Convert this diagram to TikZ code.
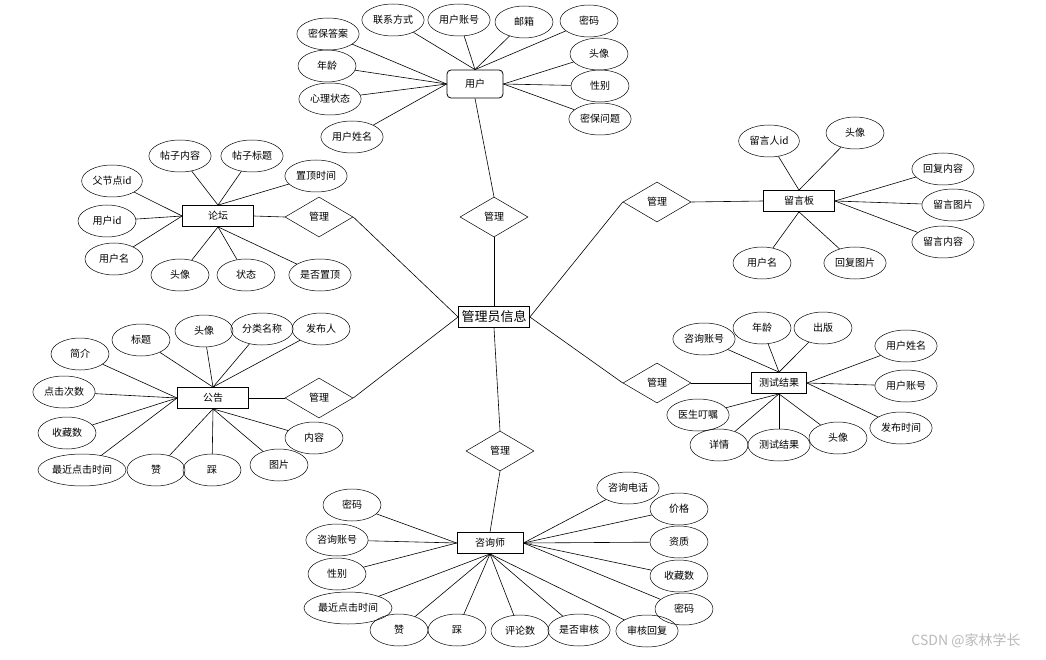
\documentclass[tikz,border=0pt]{standalone}
\usepackage{fontspec}
\setmainfont{Noto Sans CJK SC}
\usetikzlibrary{shapes.geometric}

\begin{document}
\begin{tikzpicture}[x=1pt, y=-1pt, font=\fontsize{10}{12}\selectfont,
  attr/.style={ellipse, draw, line width=0.5pt, minimum width=58, minimum height=32, inner xsep=2pt, inner ysep=0pt},
  attrlong/.style={attr, inner xsep=0pt, minimum width=88},
  ent/.style={rectangle, draw, line width=0.8pt, minimum width=71, minimum height=21, inner sep=0pt},
  rel/.style={diamond, draw, line width=0.5pt, minimum width=68, minimum height=40, inner sep=0pt},
  link/.style={line width=0.6pt}]
\useasboundingbox (0,0) rectangle (1046,660);
% Centre entity and relations
\node[ent, font=\fontsize{13}{15}\selectfont] (a) at (494,317) {管理员信息};
\node[rel] (ur) at (494,217) {管理};
\node[rel] (fr) at (319,217) {管理};
\node[rel] (nr) at (319,398) {管理};
\node[rel] (mr) at (657,202) {管理};
\node[rel] (tr) at (657,383) {管理};
\node[rel] (cr) at (500,451) {管理};
% Entities
\node[ent, rounded corners=4pt, minimum width=56, minimum height=28] (u) at (475,84) {用户};
\node[ent] (f) at (218,216) {论坛};
\node[ent] (n) at (213,398) {公告};
\node[ent] (m) at (799,201) {留言板};
\node[ent, minimum width=55] (t) at (779,383) {测试结果};
\node[ent, minimum width=66] (c) at (490,543) {咨询师};
% Relation links
\draw[link] (u.south) -- (ur.north);
\draw[link] (ur.south) -- (a.north);
\draw[link] (a.west) -- (fr.east);
\draw[link] (a.west) -- (nr.east);
\draw[link] (a.east) -- (mr.west);
\draw[link] (a.east) -- (tr.west);
\draw[link] (a.south) -- (cr.north);
\draw[link] (cr.south) -- (c.north);
\draw[link] (f.east) -- (fr.west);
\draw[link] (n.east) -- (nr.west);
\draw[link] (m.west) -- (mr.east);
\draw[link] (t.west) -- (tr.east);
% User attributes
\foreach \id/\px/\py/\lbl/\side in {
  ua/328/34/密保答案/west, ub/393/20/联系方式/north, uc/459/20/用户账号/north,
  ud/524/22/邮箱/north, ue/589/21/密码/north, uf/599/54/头像/east,
  ug/600/86/性别/east, uh/600/119/密保问题/east, ui/327/66/年龄/west,
  uj/330/99/心理状态/west, uk/352/137/用户姓名/west} {
  \node[attr] (\id) at (\px,\py) {\lbl};
  \draw[link] (\id) -- (u.\side);
}
% Forum attributes
\foreach \id/\px/\py/\lbl/\side in {
  fa/180/156/帖子内容/north, fb/252/156/帖子标题/north, fc/316/176/置顶时间/north,
  fd/112/181/父节点id/west, fe/107/221/用户id/west, ff/114/259/用户名/west,
  fg/180/275/头像/south, fh/246/275/状态/south, fi/320/275/是否置顶/south} {
  \node[attr] (\id) at (\px,\py) {\lbl};
  \draw[link] (\id) -- (f.\side);
}
% Notice attributes
\foreach \id/\px/\py/\lbl/\side in {
  na/80/354/简介/west, nb/141/340/标题/north, nc/204/331/头像/north,
  nd/262/329/分类名称/north, ne/321/329/发布人/north, nf/64/392/点击次数/west,
  ng/67/433/收藏数/west, ni/156/470/赞/south,
  nj/212/470/踩/south, nk/279/465/图片/south, nl/314/438/内容/south} {
  \node[attr] (\id) at (\px,\py) {\lbl};
  \draw[link] (\id) -- (n.\side);
}
\node[attrlong] (nh) at (82,470) {最近点击时间};
\draw[link] (nh) -- (n.west);
% Message board attributes
\foreach \id/\px/\py/\lbl/\side in {
  ma/769/141/留言人id/north, mb/855/133/头像/north, mc/943/169/回复内容/east,
  md/953/205/留言图片/east, me/943/242/留言内容/east, mf/762/263/用户名/south,
  mg/855/263/回复图片/south} {
  \node[attr] (\id) at (\px,\py) {\lbl};
  \draw[link] (\id) -- (m.\side);
}
% Test result attributes
\foreach \id/\px/\py/\lbl/\side in {
  ta/704/339/咨询账号/north, tb/762/328/年龄/north, tc/823/328/出版/north,
  td/906/346/用户姓名/east, te/906/386/用户账号/east, tf/901/428/发布时间/east,
  tg/698/415/医生叮嘱/south, th/719/445/详情/south, ti/779/445/测试结果/south,
  tj/838/438/头像/south} {
  \node[attr] (\id) at (\px,\py) {\lbl};
  \draw[link] (\id) -- (t.\side);
}
% Counselor attributes
\foreach \id/\px/\py/\lbl/\side in {
  ca/352/505/密码/west, cb/337/540/咨询账号/west, cc/337/574/性别/west,
  ce/399/630/赞/south, cf/457/630/踩/south,
  cg/520/631/评论数/south, ch/579/630/是否审核/south, ci/647/631/审核回复/south,
  cj/628/488/咨询电话/east, ck/679/509/价格/east, cl/679/542/资质/east,
  cm/679/576/收藏数/east, cn/684/609/密码/east} {
  \node[attr] (\id) at (\px,\py) {\lbl};
  \draw[link] (\id) -- (c.\side);
}
\node[attrlong] (cd) at (348,608) {最近点击时间};
\draw[link] (cd) -- (c.south);
% Watermark
\node[text=gray!55, font=\fontsize{14}{16}\selectfont] (wm) at (966,641) {CSDN @家林学长};
\end{tikzpicture}
\end{document}
